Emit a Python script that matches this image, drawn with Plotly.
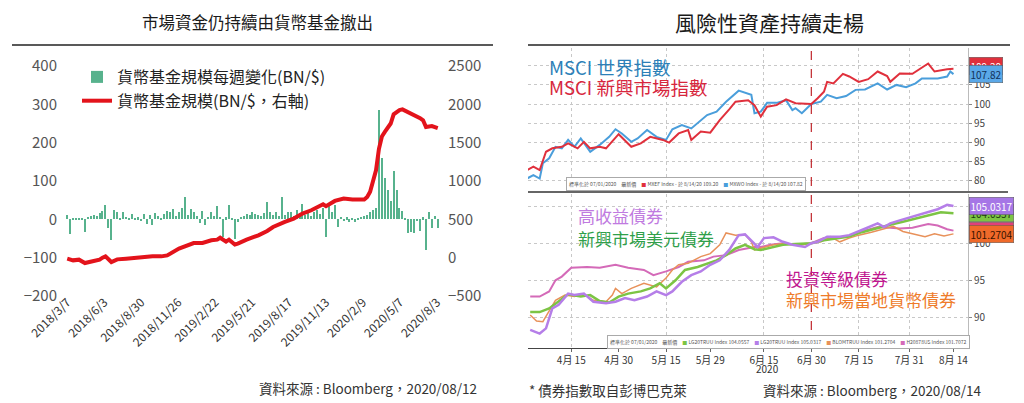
import numpy as np
import pandas as pd
import plotly.graph_objects as go

W, H = 1024, 403
FONT = "Noto Sans CJK TC"

# ---------------- left chart: money market funds ----------------
fund_start = "2018-03-07"
weekly_flow = [12, -37, 4, 3, 2, 3, -33, 6, 10, 12,
               8, 16, 22, 38, -22, -53, 24, 20, 4, 18,
               6, 3, 15, 2, 5, -4, 14, -12, 12, -15,
               16, 10, 4, 14, 22, 20, 28, 10, 18, 30,
               58, 12, 26, 20, 8, -10, 22, -14, 6, 18,
               8, 35, 6, -46, 5, 37, 4, -50, -8, 6,
               10, 15, 12, 20, 14, 12, 10, 16, 44, 18,
               12, 20, 10, 58, 12, 18, 20, 8, 25, 15,
               41, 12, 20, 10, 18, 24, 15, 30, -46, 37,
               20, 38, -20, 6, -4, 5, -6, 3, -8, 4,
               6, 10, 12, 18, 24, 30, 286, 160, 108, 77,
               47, 125, 77, 30, 21, 4, -36, -34, -36, -2,
               -31, 5, -80, 18, -22, 8, -22]
fund_size_week = [0, 2, 4, 6, 9, 11, 12, 13, 15, 17, 20, 25, 29, 32, 34, 38,
                  43, 46, 49, 51, 52, 54, 55, 57, 58, 61, 65, 68, 70, 74,
                  77, 80, 83, 87, 88, 91, 94, 97, 101, 102, 103, 104, 105,
                  106, 107, 108, 110, 111, 113, 114, 116, 118, 120, 121,
                  122, 124, 126]
fund_size = [-13, -35, -26, -70, -44, -26, 0, 17, -57, -22, -13, 9, 17, 17, 30, 118,
             190, 192, 226, 235, 260, 209, 235, 172, 183, 235, 291, 348, 400, 466,
             510, 575, 618, 697, 671, 740, 771, 758, 758, 791, 860, 1000, 1140,
             1420, 1580, 1640, 1750, 1870, 1925, 1934, 1900, 1858, 1820, 1792,
             1705, 1716, 1690]
left_ticks = ["2018-03-07", "2018-06-03", "2018-08-30", "2018-11-26", "2019-02-22",
              "2019-05-21", "2019-08-17", "2019-11-13", "2020-02-09", "2020-05-07",
              "2020-08-03"]
left_ticktext = ["2018/3/7", "2018/6/3", "2018/8/30", "2018/11/26", "2019/2/22",
                 "2019/5/21", "2019/8/17", "2019/11/13", "2020/2/9", "2020/5/7",
                 "2020/8/3"]

# ---------------- right chart: risk assets (days after 2020-04-01) ----------------
base_day = "2020-04-01"
world_days = [0, 2, 4, 5, 7, 9, 11, 13, 15, 17, 20, 23, 26, 28, 30, 33, 35, 38, 41, 44,
              46, 49, 52, 54, 57, 60, 63, 67, 71, 72, 74, 76, 79, 82, 84, 85, 87, 90, 93, 95,
              98, 101, 104, 107, 111, 114, 117, 120, 123, 125, 130, 133, 134, 135]
world_vals = [80.5, 81.4, 80.5, 84.5, 85.8, 88.8, 88.4, 90.6, 88.8, 91.0,
              87.5, 89.3, 91.4, 93.4, 92.3, 90.1, 91.0, 93.2, 91.4, 90.6,
              93.4, 94.5, 93.6, 94.9, 97.1, 98.0, 100.6, 103.5, 102.4, 97.6,
              98.0, 100.3, 100.3, 101.0, 98.4, 98.9, 97.6, 100.0, 100.6, 102.4,
              101.5, 102.1, 103.7, 103.8, 105.4, 103.8, 105.0, 104.4, 105.4, 106.7,
              106.7, 107.2, 108.5, 107.82]
em_days = [0, 2, 4, 6, 8, 11, 13, 16, 18, 20, 23, 25, 29, 33, 36, 39, 43, 45, 48, 51,
           52, 55, 58, 61, 64, 66, 70, 72, 74, 76, 79, 82, 85, 90, 92, 94, 95, 97, 100, 102,
           105, 108, 111, 114, 115, 118, 122, 127, 129, 133, 135]
em_vals = [82.7, 83.6, 82.7, 87.5, 88.4, 88.8, 89.7, 88.4, 90.1, 88.4,
           88.8, 88.4, 92.1, 88.8, 89.7, 91.4, 90.6, 89.9, 92.3, 93.2,
           90.6, 92.8, 92.5, 95.8, 98.6, 100.6, 101.0, 99.7, 96.7, 99.3,
           99.7, 101.2, 100.2, 100.0, 101.5, 103.2, 105.8, 105.4, 107.9, 107.2,
           105.8, 106.5, 108.5, 107.3, 105.8, 108.0, 107.9, 110.6, 108.5, 109.1,
           109.2]

hy_days = [1, 4, 6, 8, 10, 13, 15, 18, 21, 25, 28, 31, 34, 38, 41, 44, 46, 49, 52, 55,
           58, 61, 64, 67, 69, 71, 73, 75, 78, 81, 84, 88, 90, 92, 95, 99, 102, 106, 111, 113,
           115, 118, 122, 125, 130, 133, 135]
hy_vals = [88.3, 87.8, 88.5, 91.2, 91.7, 93.2, 93.0, 93.2, 92.1, 91.9,
           92.1, 92.6, 92.3, 92.8, 93.5, 93.0, 93.5, 94.8, 95.7, 96.2,
           97.1, 97.7, 99.1, 101.1, 101.2, 100.4, 99.5, 100.7, 100.8, 100.2,
           99.8, 99.5, 100.0, 100.2, 100.9, 100.9, 101.1, 101.8, 102.7, 102.2,
           102.7, 103.1, 103.6, 103.9, 104.6, 105.2, 105.03]
emusd_days = [1, 4, 7, 10, 13, 17, 20, 23, 26, 29, 32, 36, 39, 42, 44, 47, 50, 54, 57, 60,
              63, 66, 69, 72, 74, 77, 81, 85, 90, 94, 98, 102, 106, 111, 115, 119, 123, 128,
              131, 135]
emusd_vals = [90.7, 90.7, 91.2, 92.1, 93.1, 92.8, 93.0, 92.2, 92.0, 92.8,
              93.2, 93.5, 93.9, 94.6, 93.9, 95.0, 96.4, 96.8, 97.3, 97.7,
              98.4, 99.3, 99.8, 99.2, 99.1, 99.4, 99.8, 99.9, 100.0, 100.4,
              100.7, 100.9, 101.5, 102.1, 102.5, 102.9, 103.3, 103.8, 104.2, 104.06]
ig_days = [1, 4, 7, 9, 11, 14, 19, 23, 28, 32, 37, 40, 44, 48, 51, 56, 59, 63, 67, 72,
           74, 77, 81, 85, 90, 94, 98, 102, 106, 111, 115, 118, 122, 127, 130, 133, 135]
ig_vals = [92.8, 92.8, 93.5, 95.0, 95.5, 96.7, 96.8, 96.7, 97.1, 96.7,
           96.4, 95.7, 96.2, 96.8, 97.5, 97.7, 98.2, 98.4, 99.1, 99.5,
           99.5, 99.8, 100.0, 99.8, 100.0, 100.7, 100.7, 101.0, 101.6, 102.2,
           102.1, 102.0, 102.1, 102.6, 102.4, 101.9, 101.71]
emlocal_days = [1, 3, 5, 7, 9, 12, 15, 18, 21, 25, 27, 28, 30, 33, 37, 41, 44, 46, 48, 51,
                55, 58, 61, 63, 66, 69, 71, 72, 74, 78, 82, 86, 90, 93, 96, 99, 102, 105, 109,
                113, 116, 119, 122, 126, 129, 132, 135]
emlocal_vals = [90.3, 89.5, 89.4, 90.8, 92.3, 93.0, 92.8, 93.1, 92.3, 92.1,
                93.0, 93.9, 93.2, 93.9, 94.6, 94.1, 95.3, 96.4, 97.1, 97.3,
                98.2, 98.6, 99.8, 101.4, 101.1, 101.2, 100.2, 99.1, 99.3, 99.8,
                100.0, 99.7, 100.0, 100.2, 100.9, 100.2, 100.7, 101.1, 101.5, 102.0,
                102.3, 101.6, 101.3, 100.9, 101.3, 101.0, 101.27]

right_tick_days = [14, 29, 44, 58, 75, 90, 105, 121, 135]
right_ticktext = ["4月 15", "4月 30", "5月 15", "5月 29", "6月 15", "6月 30",
                  "7月 15", "7月 31", "8月 14"]
grid_days = [14, 44, 75, 105, 121]


def d(days):
    return pd.Timestamp(base_day) + pd.to_timedelta(np.array(days, dtype=float), unit="D")


def px(x):
    return x / W


def py(y):
    return 1 - y / H


fig = go.Figure()

# left
flow_dates = pd.date_range(fund_start, periods=len(weekly_flow), freq="7D")
size_dates = pd.Timestamp(fund_start) + pd.to_timedelta(np.array(fund_size_week) * 7, unit="D")
fig.add_trace(go.Bar(x=flow_dates, y=weekly_flow, name="貨幣基金規模每週變化(BN/$)",
                     marker=dict(color="#3aa57a", line_width=0), width=2.6 * 86400000,
                     opacity=0.85, xaxis="x", yaxis="y"))
fig.add_trace(go.Scatter(x=size_dates, y=fund_size, mode="lines", name="貨幣基金規模(BN/$，右軸)",
                         line=dict(color="#e3131b", width=4), xaxis="x", yaxis="y2"))

# right top
fig.add_trace(go.Scatter(x=d(world_days), y=world_vals, mode="lines", showlegend=False,
                         line=dict(color="#4a9edb", width=2), xaxis="x2", yaxis="y3"))
fig.add_trace(go.Scatter(x=d(em_days), y=em_vals, mode="lines", showlegend=False,
                         line=dict(color="#e0303c", width=2), xaxis="x2", yaxis="y3"))
# right bottom
fig.add_trace(go.Scatter(x=d(ig_days), y=ig_vals, mode="lines", showlegend=False,
                         line=dict(color="#d46ab8", width=2), xaxis="x3", yaxis="y4"))
fig.add_trace(go.Scatter(x=d(emlocal_days), y=emlocal_vals, mode="lines", showlegend=False,
                         line=dict(color="#e8915a", width=1.5), xaxis="x3", yaxis="y4"))
fig.add_trace(go.Scatter(x=d(emusd_days), y=emusd_vals, mode="lines", showlegend=False,
                         line=dict(color="#7cc444", width=2.5), xaxis="x3", yaxis="y4"))
fig.add_trace(go.Scatter(x=d(hy_days), y=hy_vals, mode="lines", showlegend=False,
                         line=dict(color="#b57ee8", width=2.5), xaxis="x3", yaxis="y4"))

r_range = [d([0.3])[0], d([139.6])[0]]
grid_x = dict(tickvals=list(d(grid_days)), showgrid=True, gridcolor="#c8c8c8",
              griddash="dot", gridwidth=1, ticks="")

fig.update_layout(
    width=W, height=H, margin=dict(l=0, r=0, t=0, b=0),
    paper_bgcolor="white", plot_bgcolor="white",
    font=dict(family=FONT, color="#333"),
    bargap=0,
    legend=dict(x=px(77), y=py(60), xanchor="left", yanchor="top",
                font=dict(size=16, color="#222"), bgcolor="rgba(0,0,0,0)",
                tracegroupgap=0),
    # the date axis floats slightly above the plot bottom so the slanted labels sit higher
    xaxis=dict(domain=[px(58), px(447)], type="date", range=["2018-02-13", "2020-08-27"],
               anchor="free", position=py(292),
               tickvals=left_ticks, ticktext=left_ticktext, tickangle=-45, automargin=False,
               showgrid=False, showline=False, zeroline=False, ticks="",
               tickfont=dict(size=12, color="#333")),
    yaxis=dict(domain=[py(300), py(60)], range=[-210.4, 415.65], automargin=False,
               tickvals=[-200, -100, 0, 100, 200, 300, 400], showgrid=False, zeroline=False,
               ticks="", tickfont=dict(size=15, color="#555")),
    yaxis2=dict(overlaying="y", side="right", anchor="x", range=[-552.2, 2578.3],
                automargin=False,
                tickvals=[-500, 0, 500, 1000, 1500, 2000, 2500], showgrid=False,
                zeroline=False, ticks="", tickfont=dict(size=15, color="#555")),
    xaxis2=dict(domain=[px(528), px(968)], type="date", range=r_range, anchor="y3",
                automargin=False,
                showticklabels=False, showgrid=False, zeroline=False, showline=False,
                ticks="", minor=grid_x),
    yaxis3=dict(domain=[py(191), py(48)], range=[77.23, 114.66], side="right", anchor="x2",
                automargin=False,
                tickvals=[80, 85, 90, 95, 100, 105, 110], ticktext=["80", "85", "90", "95", "100", "105", ""],
                showgrid=True, gridcolor="#c8c8c8", griddash="dot",
                zeroline=False, showline=True, linecolor="#bbbbbb", ticks="outside",
                ticklen=3, tickcolor="#888", tickfont=dict(size=10, color="#444")),
    xaxis3=dict(domain=[px(528), px(968)], type="date", range=r_range, anchor="y4",
                automargin=False,
                tickvals=list(d(right_tick_days)), ticktext=right_ticktext,
                showgrid=False, zeroline=False, showline=True, linecolor="#444",
                ticks="outside", ticklen=3, tickcolor="#666",
                tickfont=dict(size=10, color="#333"), minor=grid_x),
    yaxis4=dict(domain=[py(348), py(194)], range=[85.85, 106.66], side="right", anchor="x3",
                automargin=False,
                tickvals=[90, 95, 100, 105], ticktext=["90", "95", "100", ""],
                showgrid=True, gridcolor="#c8c8c8", griddash="dot",
                zeroline=False, showline=True, linecolor="#bbbbbb", ticks="outside",
                ticklen=3, tickcolor="#888", tickfont=dict(size=10, color="#444")),
)

shapes = [
    dict(type="line", xref="paper", yref="paper", x0=px(12), x1=px(493), y0=py(45), y1=py(45),
         line=dict(color="#222", width=1.5)),
    dict(type="line", xref="paper", yref="paper", x0=px(528), x1=px(1010), y0=py(45), y1=py(45),
         line=dict(color="#222", width=1.5)),
    dict(type="line", xref="paper", yref="paper", x0=px(528), x1=px(1008), y0=py(192), y1=py(192),
         line=dict(color="#333", width=1.5)),
    dict(type="line", xref="x2", yref="paper", x0=d([90])[0], x1=d([90])[0], y0=py(348), y1=py(46),
         line=dict(color="#c0282e", width=1.2, dash="dash")),
]
fig.update_layout(shapes=shapes)

ann = []


def text(x, y, s, size, color, xanchor="center", **kw):
    ann.append(dict(x=px(x), y=py(y), xref="paper", yref="paper", text=s, showarrow=False,
                    xanchor=xanchor, yanchor="middle", font=dict(size=size, color=color), **kw))


text(257, 22, "市場資金仍持續由貨幣基金撤出", 16.5, "#1a1a1a")
text(769, 22, "風險性資產持續走楊", 21, "#1a1a1a")
text(479, 388, "資料來源 : Bloomberg，2020/08/12", 13.5, "#333", xanchor="right")
text(527, 390, "* 債券指數取自彭博巴克萊", 13.5, "#333", xanchor="left")
text(983, 390, "資料來源 : Bloomberg，2020/08/14", 13.5, "#333", xanchor="right")
text(767, 368, "2020", 10, "#333")

text(547, 67, "MSCI 世界指數", 18.5, "#2c7fb8", xanchor="left")
text(547, 87, "MSCI 新興市場指數", 18.5, "#d7263d", xanchor="left")
text(576, 216, "高收益債券", 17, "#c07ae0", xanchor="left")
text(576, 238, "新興市場美元債券", 17, "#2fa04a", xanchor="left")
text(784, 278, "投資等級債券", 17, "#c0168f", xanchor="left")
text(784, 299, "新興市場當地貨幣債券", 17, "#ee7b2a", xanchor="left")

sq = '<span style="color:{}">■</span>'
text(686, 184, "標準化於 07/01/2020　最新價　" + sq.format("#e0303c") + " MXEF Index - 於 8/14/20 109.20　"
     + sq.format("#4a9edb") + " MXWO Index - 於 8/14/20 107.82", 5, "#555",
     bordercolor="#aaa", borderwidth=1, bgcolor="white", borderpad=2)
text(788, 342, "標準化於 07/01/2020　最新價　" + sq.format("#7cc444") + " LG20TRUU Index 104.0557　"
     + sq.format("#b57ee8") + " LG20TRUU Index 105.0317　" + sq.format("#e8915a")
     + " BLOMTRUU Index 101.2704　" + sq.format("#d46ab8") + " H20878US Index 101.7072", 5, "#555",
     bordercolor="#aaa", borderwidth=1, bgcolor="white", borderpad=2)

# last-value tags (the hidden ones first, as in the terminal screenshot)
tags = [("y3", em_vals[-1], "109.20", "#e0303c", "white", 3),
        ("y3", world_vals[-1], "107.82", "#5aa8e8", "#12325a", 0),
        ("y4", emusd_vals[-1], "104.0557", "#7cc444", "#1d3d10", 0),
        ("y4", hy_vals[-1], "105.0317", "#a676e6", "white", 0),
        ("y4", ig_vals[-1], "101.7072", "#e0407a", "white", 0),
        ("y4", emlocal_vals[-1], "101.2704", "#f06a2a", "#3a1400", 0)]
for yr, v, s, bg, fc, sh in tags:
    ann.append(dict(x=px(969), y=v, xref="paper", yref=yr, text=s, showarrow=False,
                    xanchor="left", yanchor="middle", yshift=sh, bgcolor=bg, bordercolor="#555",
                    borderwidth=0.5, borderpad=1, font=dict(size=10, color=fc)))

fig.update_layout(annotations=ann)
# page body has a default 8px margin; drop it so the figure sits at the window origin
fig.write_html("out.html", config={"displayModeBar": False},
               post_script="document.body.style.margin='0';")
